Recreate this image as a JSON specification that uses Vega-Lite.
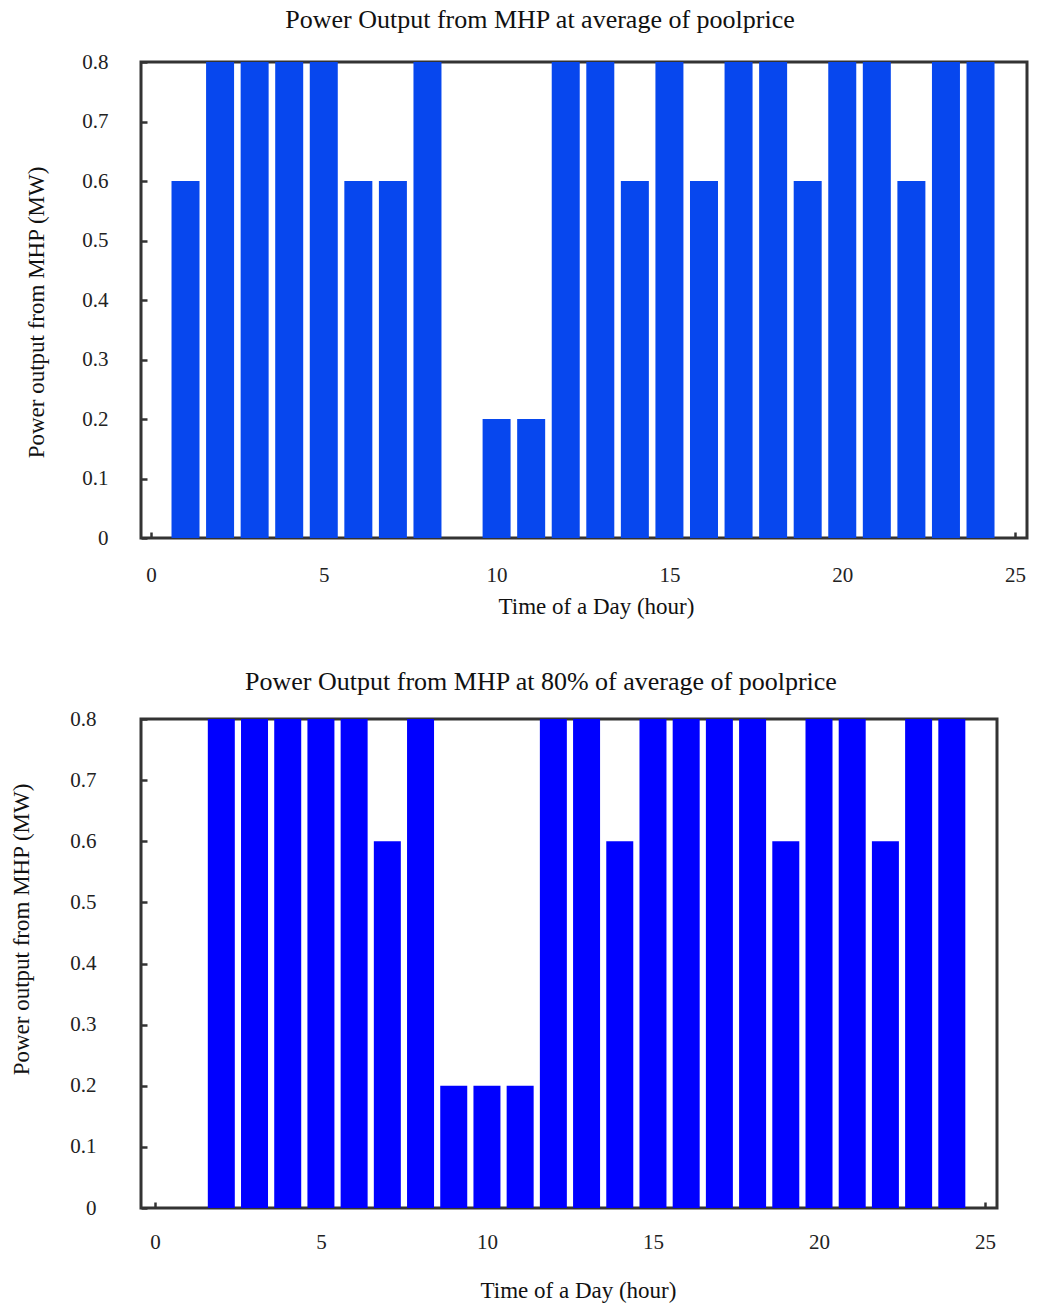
{
  "$schema": "https://vega.github.io/schema/vega-lite/v6.json",
  "padding": {"left": 9, "top": 5, "right": 0, "bottom": 0},
  "spacing": 47,
  "config": {
    "font": "Liberation Serif",
    "view": {"stroke": "#333333", "strokeWidth": 3},
    "axis": {
      "domain": false,
      "grid": false,
      "tickSize": -6,
      "tickColor": "#333333",
      "tickWidth": 2.5,
      "labelColor": "#222222",
      "titleColor": "#111111",
      "labelFont": "Liberation Serif",
      "titleFont": "Liberation Serif",
      "labelFontSize": 21,
      "titleFontSize": 23,
      "titleFontWeight": "normal"
    },
    "title": {"font": "Liberation Serif", "fontSize": 26, "fontWeight": "normal", "color": "#111111"}
  },
  "datasets": {
    "avg": [
      {"hour": 1, "power": 0.6}, {"hour": 2, "power": 0.8}, {"hour": 3, "power": 0.8}, {"hour": 4, "power": 0.8},
      {"hour": 5, "power": 0.8}, {"hour": 6, "power": 0.6}, {"hour": 7, "power": 0.6}, {"hour": 8, "power": 0.8},
      {"hour": 9, "power": 0}, {"hour": 10, "power": 0.2}, {"hour": 11, "power": 0.2}, {"hour": 12, "power": 0.8},
      {"hour": 13, "power": 0.8}, {"hour": 14, "power": 0.6}, {"hour": 15, "power": 0.8}, {"hour": 16, "power": 0.6},
      {"hour": 17, "power": 0.8}, {"hour": 18, "power": 0.8}, {"hour": 19, "power": 0.6}, {"hour": 20, "power": 0.8},
      {"hour": 21, "power": 0.8}, {"hour": 22, "power": 0.6}, {"hour": 23, "power": 0.8}, {"hour": 24, "power": 0.8}
    ],
    "p80": [
      {"hour": 1, "power": 0}, {"hour": 2, "power": 0.8}, {"hour": 3, "power": 0.8}, {"hour": 4, "power": 0.8},
      {"hour": 5, "power": 0.8}, {"hour": 6, "power": 0.8}, {"hour": 7, "power": 0.6}, {"hour": 8, "power": 0.8},
      {"hour": 9, "power": 0.2}, {"hour": 10, "power": 0.2}, {"hour": 11, "power": 0.2}, {"hour": 12, "power": 0.8},
      {"hour": 13, "power": 0.8}, {"hour": 14, "power": 0.6}, {"hour": 15, "power": 0.8}, {"hour": 16, "power": 0.8},
      {"hour": 17, "power": 0.8}, {"hour": 18, "power": 0.8}, {"hour": 19, "power": 0.6}, {"hour": 20, "power": 0.8},
      {"hour": 21, "power": 0.8}, {"hour": 22, "power": 0.6}, {"hour": 23, "power": 0.8}, {"hour": 24, "power": 0.8}
    ]
  },
  "vconcat": [
    {
      "title": {"text": "Power Output from MHP  at average of poolprice", "offset": 18, "dx": -44},
      "width": 886,
      "height": 476,
      "data": {"name": "avg"},
      "mark": {"type": "bar", "size": 28, "color": "#0747EE"},
      "encoding": {
        "x": {
          "field": "hour", "type": "quantitative",
          "scale": {"domain": [-0.143, 25.2], "nice": false, "zero": false},
          "axis": {"values": [0, 5, 10, 15, 20, 25], "format": "d", "title": "Time of a Day (hour)",
                   "labelPadding": 32, "titlePadding": 10, "titleX": 455}
        },
        "y": {
          "field": "power", "type": "quantitative",
          "scale": {"domain": [0, 0.8], "nice": false},
          "axis": {"values": [0, 0.1, 0.2, 0.3, 0.4, 0.5, 0.6, 0.7, 0.8], "format": ".1~f",
                   "title": "Power output from MHP (MW)", "labelPadding": 39, "titlePadding": 33, "titleY": 250}
        }
      }
    },
    {
      "title": {"text": "Power Output from MHP at 80% of average of poolprice", "offset": 13, "dx": -28},
      "width": 856,
      "height": 489,
      "data": {"name": "p80"},
      "mark": {"type": "bar", "size": 27, "color": "#0000FF"},
      "encoding": {
        "x": {
          "field": "hour", "type": "quantitative",
          "scale": {"domain": [-0.268, 25.21], "nice": false, "zero": false},
          "axis": {"values": [0, 5, 10, 15, 20, 25], "format": "d", "title": "Time of a Day (hour)",
                   "labelPadding": 29, "titlePadding": 27, "titleX": 437}
        },
        "y": {
          "field": "power", "type": "quantitative",
          "scale": {"domain": [0, 0.8], "nice": false},
          "axis": {"values": [0, 0.1, 0.2, 0.3, 0.4, 0.5, 0.6, 0.7, 0.8], "format": ".1~f",
                   "title": "Power output from MHP (MW)", "labelPadding": 51, "titlePadding": 36, "titleY": 210}
        }
      }
    }
  ]
}
